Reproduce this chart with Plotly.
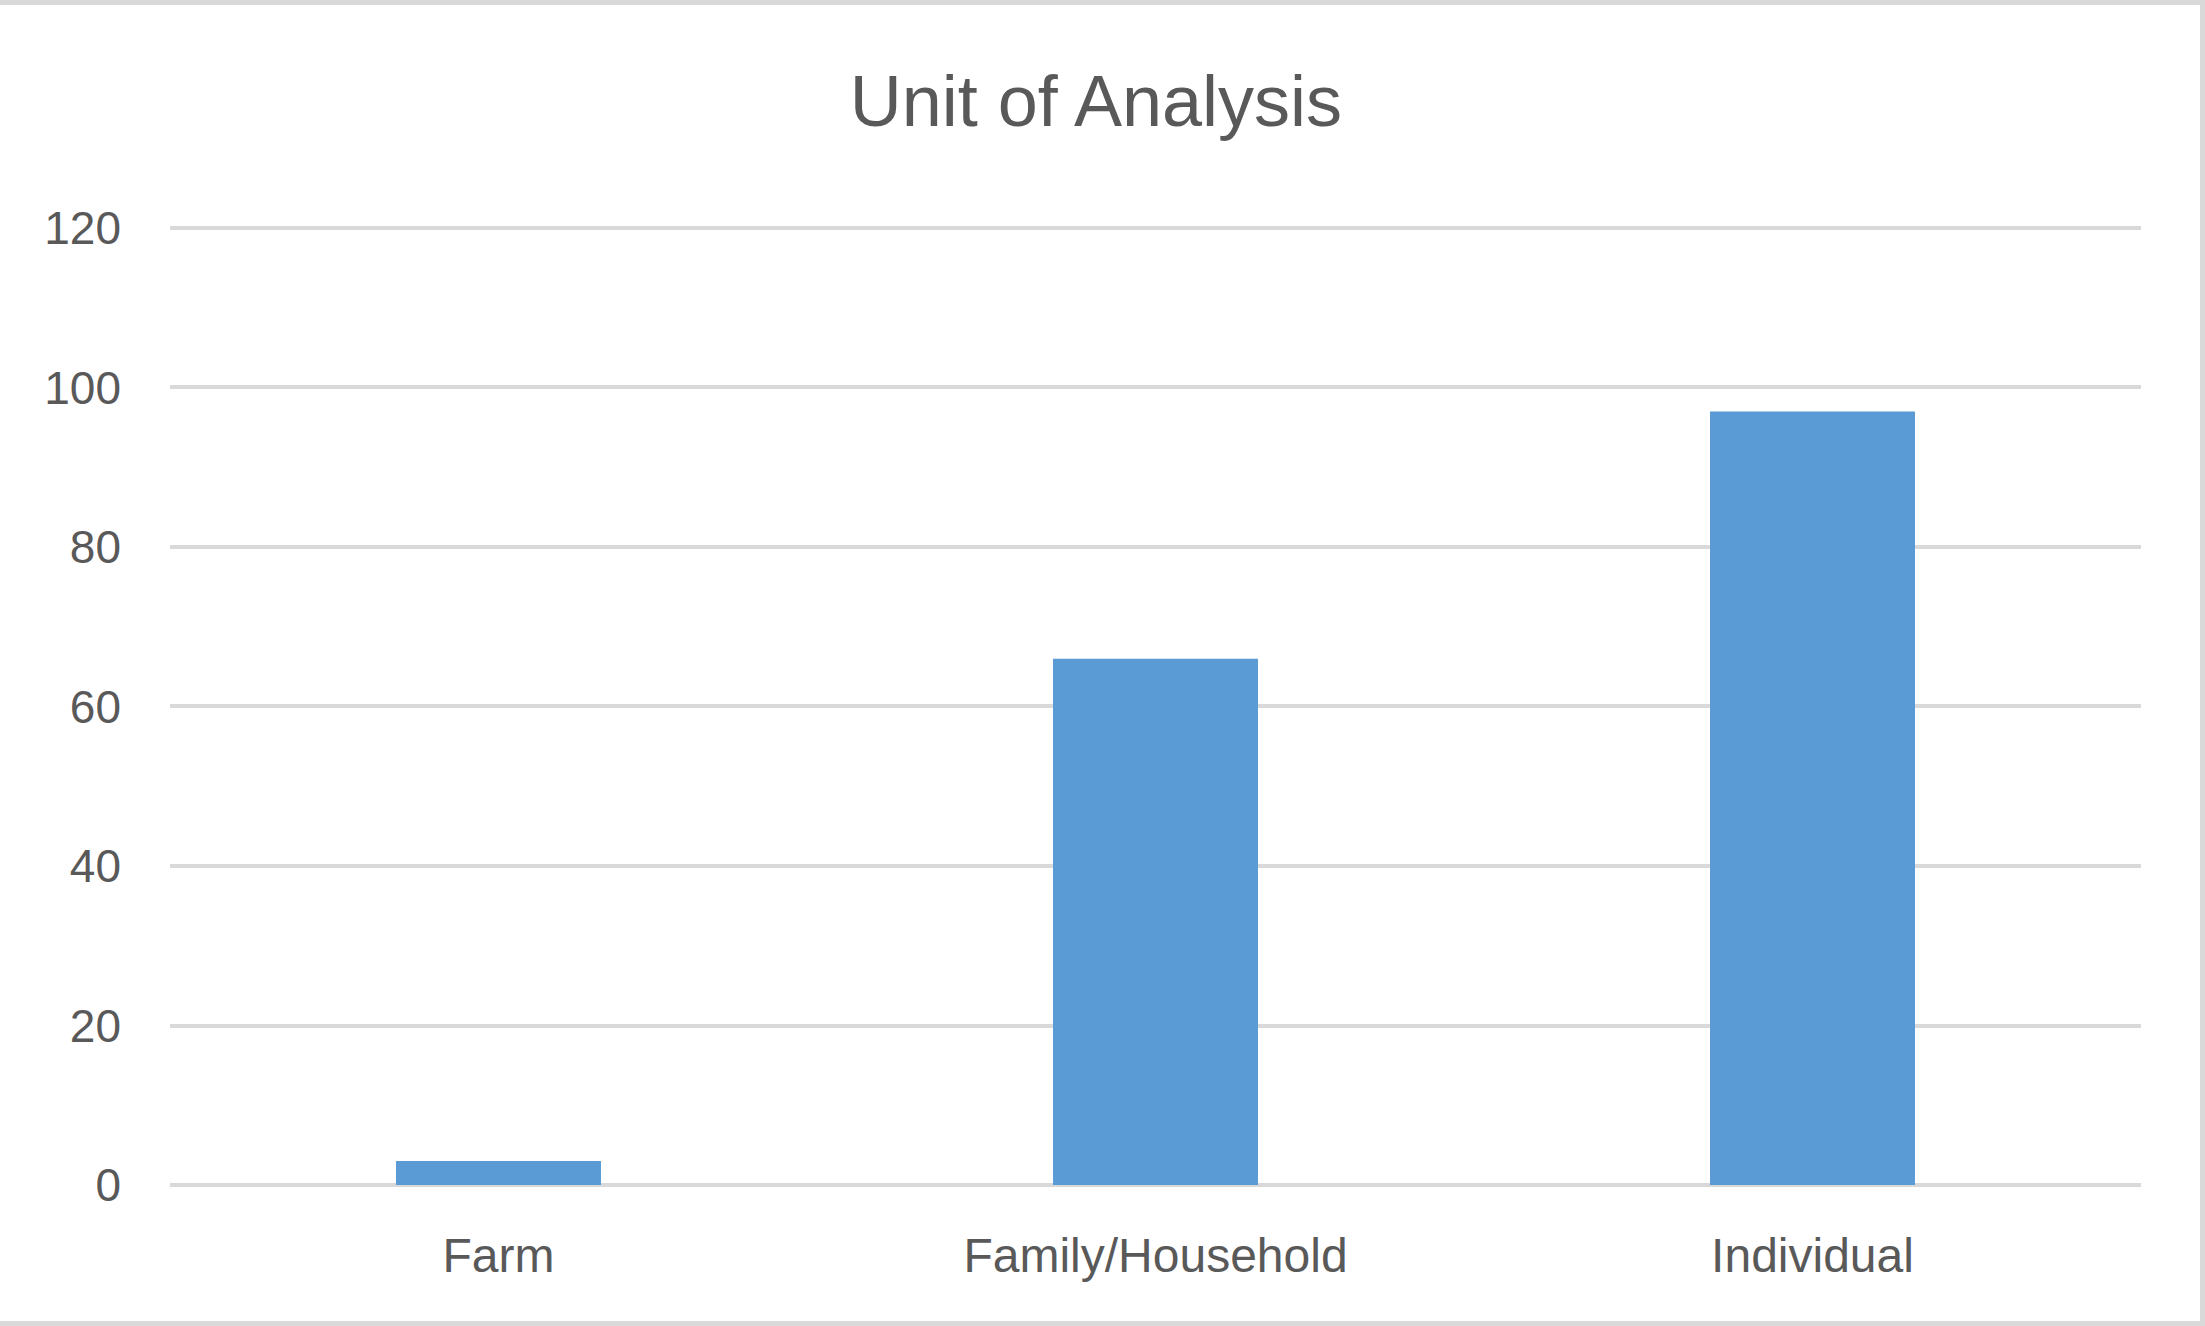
import plotly.graph_objects as go

# data
categories = ["Farm", "Family/Household", "Individual"]
counts = [3, 66, 97]
y_ticks = [0, 20, 40, 60, 80, 100, 120]

W, H = 2205, 1326
ml, mr, mt, mb = 170, 64, 224, 141
grid_col = "#d9d9d9"
text_col = "#595959"

fig = go.Figure(go.Bar(x=categories, y=counts, marker_color="#5b9bd5", marker_line_width=0))

fig.update_layout(
    width=W, height=H,
    margin=dict(l=ml, r=mr, t=mt, b=mb, pad=0),
    paper_bgcolor="white", plot_bgcolor="white",
    bargap=0.688,
    showlegend=False,
    font=dict(family="Liberation Sans Narrow, Liberation Sans, sans-serif", color=text_col),
    title=dict(text="Unit of Analysis", x=0.497, xanchor="center", y=1 - 101 / H, yanchor="middle",
               yref="container", font=dict(size=72, color=text_col)),
)
# a little headroom so the 120 gridline is drawn
fig.update_yaxes(range=[0, 120.5], tickvals=y_ticks, showgrid=True, gridcolor=grid_col, gridwidth=4,
                 zeroline=True, zerolinecolor=grid_col, zerolinewidth=4, showline=False,
                 ticks="", ticklabelstandoff=48, tickfont=dict(size=46, color=text_col))
fig.update_xaxes(showgrid=False, showline=False, ticks="", ticklabelstandoff=38,
                 tickfont=dict(size=48, color=text_col))

# outer frame (top, right, bottom; none on the left)
pw = W - ml - mr
ph = H - mt - mb
def px(v): return (v - ml) / pw
def py(v): return (H - mb - v) / ph
for x0, y0, x1, y1 in [(0, 2.5, W, 2.5), (W - 2.5, 0, W - 2.5, H), (0, H - 2.5, W, H - 2.5)]:
    fig.add_shape(type="line", xref="paper", yref="paper", x0=px(x0), y0=py(y0), x1=px(x1), y1=py(y1),
                  line=dict(color=grid_col, width=5))

fig.write_html("out.html", config={"displayModeBar": False},
               post_script="document.body.style.margin='0';document.body.style.overflow='hidden';")
